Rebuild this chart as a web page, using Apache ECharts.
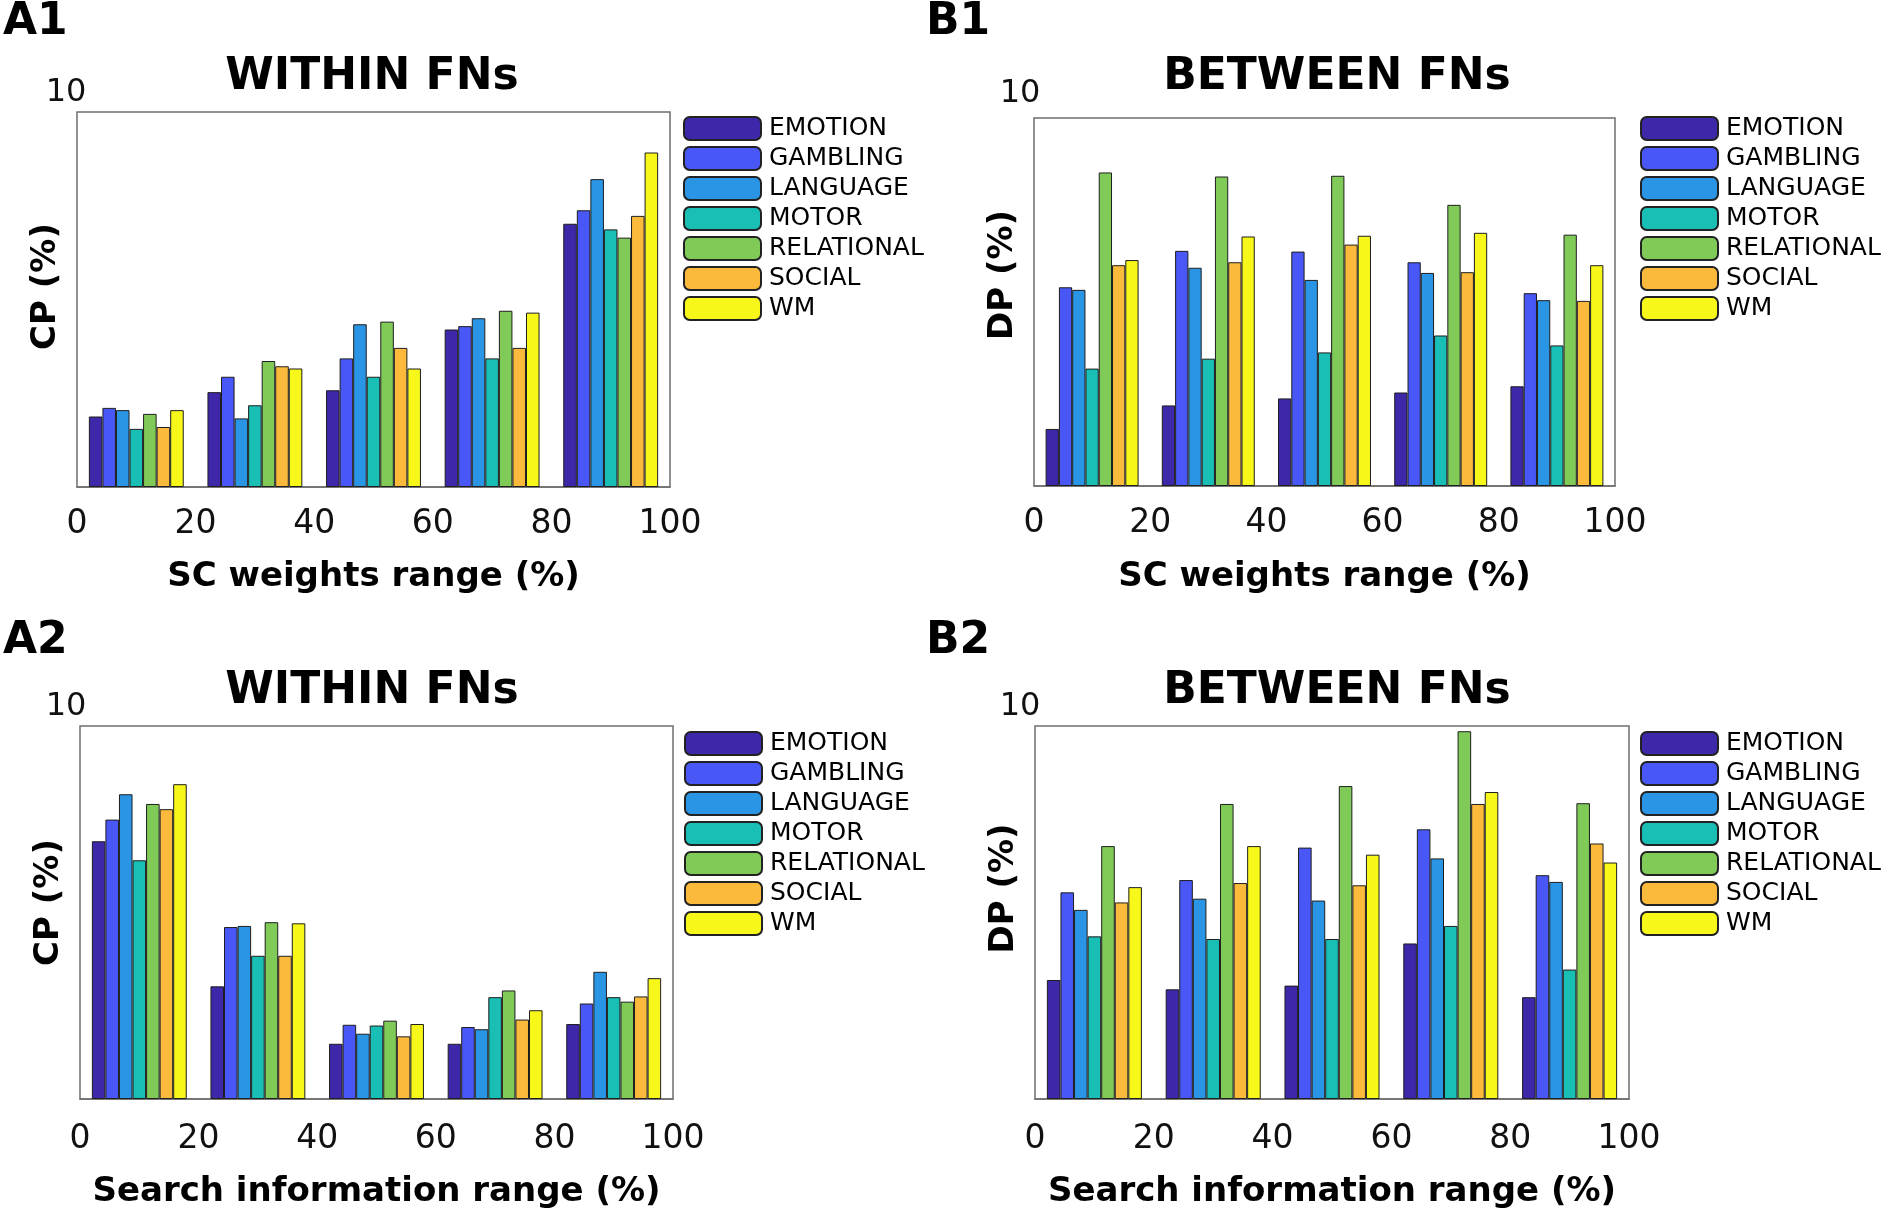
<!DOCTYPE html>
<html>
<head>
<meta charset="utf-8">
<script src="https://cdn.jsdelivr.net/npm/echarts@6/dist/echarts.min.js"></script>
<style>
html,body{margin:0;padding:0;background:#fff;}
#chart{width:1890px;height:1212px;}
</style>
</head>
<body>
<div id="chart"></div>
<script>
// ---- data ----
const groups = ['0-20', '20-40', '40-60', '60-80', '80-100'];
const tasks = ['EMOTION', 'GAMBLING', 'LANGUAGE', 'MOTOR', 'RELATIONAL', 'SOCIAL', 'WM'];
const xTickMin = 0, xTickMax = 100, xTickStep = 20;
const yTopLabel = '10';
const yMax = 10;

// values per task (rows) across the 5 ranges (columns)
const A1_CP_SC = [
  [1.88, 2.53, 2.58, 4.20, 7.02],  // EMOTION
  [2.11, 2.94, 3.43, 4.29, 7.38],  // GAMBLING
  [2.05, 1.83, 4.34, 4.50, 8.21],  // LANGUAGE
  [1.55, 2.18, 2.94, 3.43, 6.87],  // MOTOR
  [1.95, 3.36, 4.41, 4.70, 6.65],  // RELATIONAL
  [1.60, 3.22, 3.71, 3.71, 7.23],  // SOCIAL
  [2.05, 3.16, 3.16, 4.65, 8.92]   // WM
];
const B1_DP_SC = [
  [1.55, 2.19, 2.38, 2.54, 2.71],
  [5.40, 6.39, 6.37, 6.08, 5.24],
  [5.33, 5.93, 5.60, 5.79, 5.05],
  [3.19, 3.46, 3.63, 4.09, 3.82],
  [8.52, 8.41, 8.43, 7.64, 6.83],
  [6.00, 6.08, 6.56, 5.81, 5.03],
  [6.14, 6.78, 6.80, 6.88, 6.00]
];
const A2_CP_SI = [
  [6.91, 3.02, 1.48, 1.48, 2.01],
  [7.49, 4.61, 1.99, 1.93, 2.56],
  [8.17, 4.64, 1.75, 1.87, 3.41],
  [6.40, 3.84, 1.97, 2.73, 2.73],
  [7.91, 4.74, 2.10, 2.91, 2.61],
  [7.77, 3.84, 1.68, 2.13, 2.75],
  [8.44, 4.71, 2.01, 2.38, 3.24]
];
const B2_DP_SI = [
  [3.19, 2.94, 3.04, 4.17, 2.73],
  [5.54, 5.87, 6.74, 7.23, 6.00],
  [5.07, 5.37, 5.32, 6.45, 5.82],
  [4.36, 4.29, 4.29, 4.64, 3.47],
  [6.78, 7.91, 8.39, 9.86, 7.93],
  [5.27, 5.79, 5.73, 7.91, 6.85],
  [5.68, 6.78, 6.55, 8.23, 6.34]
];

const panelLabels = ['A1', 'B1', 'A2', 'B2'];
const panelTitles = ['WITHIN FNs', 'BETWEEN FNs', 'WITHIN FNs', 'BETWEEN FNs'];
const yNames = ['CP (%)', 'DP (%)', 'CP (%)', 'DP (%)'];
const xNames = ['SC weights range (%)', 'SC weights range (%)', 'Search information range (%)', 'Search information range (%)'];
const panelData = [A1_CP_SC, B1_DP_SC, A2_CP_SI, B2_DP_SI];

// ---- style / layout ----
const colors = ['#3e27a9', '#4857f5', '#2a95e5', '#19beb4', '#80ca58', '#fbba3c', '#f8f71a'];
const FONT = '"DejaVu Sans", "Liberation Sans", sans-serif';
const layout = [
  {grid: {left: 77, top: 112, width: 593, height: 375}, legend: {left: 683, top: 116}, tenShift: 11, tenGap: 19, yShift: 13,
   xNameGap: 73, tickMargin: 21, label: {x: 3, y: 23}, title: {x: 372, y: 78}},
  {grid: {left: 1034, top: 118, width: 581, height: 368}, legend: {left: 1640, top: 116}, tenShift: 14, tenGap: 24, yShift: 27,
   xNameGap: 74, tickMargin: 21, label: {x: 926, y: 23}, title: {x: 1337, y: 78}},
  {grid: {left: 80, top: 726, width: 593, height: 373}, legend: {left: 684, top: 731}, tenShift: 14, tenGap: 19, yShift: 10,
   xNameGap: 76, tickMargin: 24, label: {x: 3, y: 642}, title: {x: 372, y: 692}},
  {grid: {left: 1035, top: 726, width: 594, height: 373}, legend: {left: 1640, top: 731}, tenShift: 15, tenGap: 19, yShift: 24,
   xNameGap: 76, tickMargin: 24, label: {x: 926, y: 642}, title: {x: 1337, y: 692}}
];

const grids = [], xAxes = [], yAxes = [], series = [], legends = [], graphics = [];

layout.forEach((L, p) => {
  grids.push(Object.assign({show: true, borderColor: '#6e6e6e', borderWidth: 1.5, backgroundColor: '#fff'}, L.grid));
  // value axis for the 0..100 tick labels (first, so it takes the bottom position)
  xAxes.push({
    type: 'value', gridIndex: p, position: 'bottom', min: xTickMin, max: xTickMax, interval: xTickStep,
    axisLine: {show: true, lineStyle: {color: '#6e6e6e', width: 1.5}},
    axisTick: {show: false}, splitLine: {show: false},
    axisLabel: {show: true, fontFamily: FONT, fontSize: 33, color: '#111', margin: L.tickMargin, showMinLabel: true, showMaxLabel: true},
    name: xNames[p], nameLocation: 'middle', nameGap: L.xNameGap,
    nameTextStyle: {fontFamily: FONT, fontSize: 34, fontWeight: 'bold', color: '#000'}
  });
  // hidden category axis used for grouped bars
  xAxes.push({type: 'category', gridIndex: p, data: groups, show: false});
  yAxes.push({
    type: 'value', gridIndex: p, min: 0, max: yMax,
    axisLine: {show: false}, axisTick: {show: false}, splitLine: {show: false}, axisLabel: {show: false},
    name: yNames[p], nameLocation: 'middle', nameGap: 14,
    nameTextStyle: {fontFamily: FONT, fontSize: 34, fontWeight: 'bold', color: '#000', padding: [0, 0, 0, 2 * L.yShift]}
  });
  // "10" label above the top-left corner, as a second (label-only) y axis name
  yAxes.push({
    type: 'value', gridIndex: p, min: 0, max: yMax, show: true, position: 'left',
    axisLine: {show: false}, axisTick: {show: false}, splitLine: {show: false}, axisLabel: {show: false},
    name: yTopLabel, nameLocation: 'end', nameGap: L.tenGap,
    nameTextStyle: {fontFamily: FONT, fontSize: 32, color: '#111', align: 'center', verticalAlign: 'middle', padding: [0, 2 * L.tenShift, 0, 0]}
  });
  tasks.forEach((t, i) => {
    series.push({
      type: 'bar', name: t, xAxisIndex: 2 * p + 1, yAxisIndex: 2 * p,
      data: panelData[p][i], barGap: '0%', barCategoryGap: '20%',
      itemStyle: {color: colors[i], borderColor: '#1e1e1e', borderWidth: 1},
      emphasis: {disabled: true}, animation: false
    });
  });
  legends.push({
    data: tasks, orient: 'vertical', left: L.legend.left, top: L.legend.top, padding: 0,
    itemWidth: 77, itemHeight: 23, itemGap: 5, icon: 'roundRect', selectedMode: false,
    itemStyle: {borderColor: '#222', borderWidth: 2},
    textStyle: {fontFamily: FONT, fontSize: 25, color: '#000', padding: [0, 0, 0, 3]}
  });
  graphics.push({type: 'text', x: L.label.x, y: L.label.y,
    style: {text: panelLabels[p], font: 'bold 44px ' + FONT, fill: '#000', align: 'left', verticalAlign: 'middle', textAlign: 'left', textVerticalAlign: 'middle'}});
  graphics.push({type: 'text', x: L.title.x, y: L.title.y,
    style: {text: panelTitles[p], font: 'bold 44px ' + FONT, fill: '#000', align: 'center', verticalAlign: 'middle', textAlign: 'center', textVerticalAlign: 'middle'}});
});

const chart = echarts.init(document.getElementById('chart'), null, {renderer: 'canvas'});
chart.setOption({
  backgroundColor: '#fff',
  animation: false,
  grid: grids, xAxis: xAxes, yAxis: yAxes, series: series, legend: legends, graphic: graphics
});
</script>
</body>
</html>
